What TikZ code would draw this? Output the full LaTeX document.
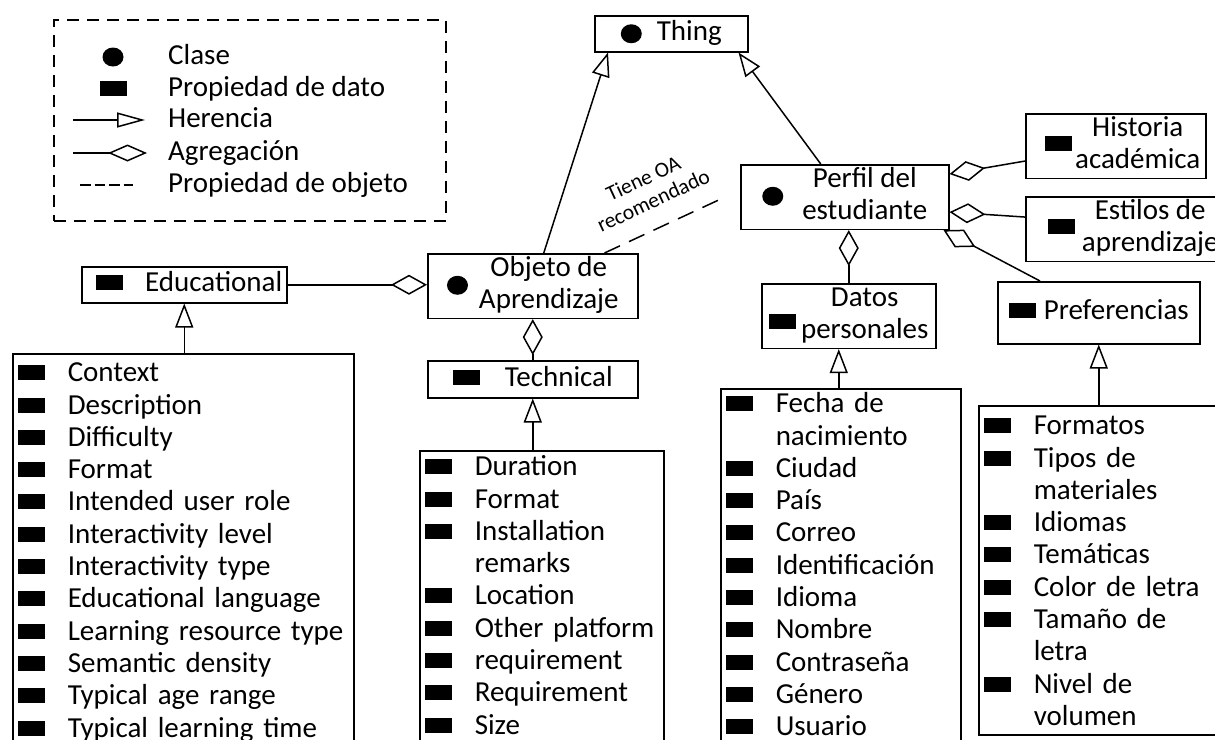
\documentclass[tikz,border=0pt]{standalone}
\usepackage{fontspec}
\setmainfont{Carlito}
\usepackage{tikz}
\usetikzlibrary{arrows.meta}
\usetikzlibrary{calc}

\newcommand{\clase}{\tikz[baseline=-7pt]\fill (0,0) ellipse (10.5pt and 9.5pt);}
\newcommand{\dato}{\rule[1.5pt]{27pt}{15pt}}
\newcommand{\fila}[1]{\makebox[50pt][l]{\dato}#1}
\newcommand{\nofila}[1]{\makebox[50pt][l]{}#1}

\tikzstyle{caja} = [draw,line width=1.5pt,inner sep=0pt,anchor=north west,font=\fontsize{29}{32.3}\selectfont]
\tikzstyle{una} = [caja,text height=20pt,text depth=6pt]
\tikzstyle{lista} = [caja,align=left,inner xsep=5pt,text height=21pt]
\tikzstyle{ley} = [anchor=west,inner sep=0pt,font=\fontsize{29}{32.3}\selectfont,text height=20pt,text depth=6pt]
\tikzstyle{her} = [line width=1.5pt,-{Triangle[open,length=24pt,width=18pt]}]
\tikzstyle{agr} = [line width=1.5pt,-{Diamond[open,length=36pt,width=20pt]}]
\tikzstyle{obj} = [line width=1.5pt,dash pattern=on 17pt off 10pt]

\begin{document}
\begin{tikzpicture}[x=1pt,y=-1pt]
\useasboundingbox (0,0) rectangle (1215,739);

% Leyenda
    \node[caja,dash pattern=on 12pt off 8pt,minimum width=392pt,minimum height=201pt] (leyenda) at (53,19) {};
    \node (iclase) at (113,57) {\clase};
    \node[inner sep=0pt] (idato) at (113,89) {\dato};
    \coordinate (her0) at (73,120);
    \coordinate (her1) at (145,120);
    \coordinate (agr0) at (73,153);
    \coordinate (agr1) at (147,153);
    \coordinate (obj0) at (80,185);
    \coordinate (obj1) at (133,185);
    \draw[line width=1.5pt,-{Triangle[open,length=28pt,width=15pt]}] (her0) -- (her1);
    \draw[line width=1.5pt,-{Diamond[open,length=39pt,width=17pt]}] (agr0) -- (agr1);
    \draw[line width=1.5pt,dash pattern=on 10.5pt off 4pt] (obj0) -- (obj1);
    \node[ley] (tclase) at (168,57) {Clase};
    \node[ley] (tdato) at (168,89) {Propiedad de dato};
    \node[ley] (ther) at (168,120) {Herencia};
    \node[ley] (tagr) at (168,153) {Agregación};
    \node[ley] (tobj) at (168,185) {Propiedad de objeto};

% Clases y propiedades
    \node[una,minimum width=153pt,minimum height=36pt] (thing) at (594,15) {\clase\hspace{15pt}Thing\hspace{10pt}};
    \node[caja,minimum width=210pt,minimum height=63pt] (objeto) at (427,253) {\clase\hspace{11pt}\begin{tabular}{@{}c@{}}Objeto de\\Aprendizaje\end{tabular}};
    \node[caja,minimum width=208pt,minimum height=62pt] (perfil) at (740,164) {\clase\hspace{19pt}\begin{tabular}{@{}c@{}}Perfil del\\estudiante\end{tabular}};
    \node[una,minimum width=205pt,minimum height=36pt] (educational) at (81,266) {\hspace{10pt}\dato\hspace{22pt}Educational};
    \node[una,minimum width=210pt,minimum height=37pt] (technical) at (427,360) {\dato\hspace{25pt}Technical\hspace{18pt}};
    \node[caja,minimum width=174pt,minimum height=64pt] (datos) at (761,283) {\raisebox{-8pt}{\dato}\hspace{5pt}\begin{tabular}{@{}c@{}}Datos\\personales\end{tabular}};
    \node[una,minimum width=202pt,minimum height=62pt] (pref) at (997,281) {\dato\hspace{8pt}Preferencias};
    \node[caja,minimum width=180pt,minimum height=63pt] (historia) at (1025,113) {\hspace{14pt}\dato\hspace{3pt}\begin{tabular}{@{}c@{}}Historia\\académica\end{tabular}};
    \node[caja,minimum width=215pt,minimum height=62pt] (estilos) at (1025,196) {\dato\hspace{7pt}\begin{tabular}{@{}c@{}}Estilos de\\aprendizaje\end{tabular}};

% Listas de propiedades
    \node[lista,text width=331pt,inner ysep=7pt,text depth=372pt] (edulista) at (12,353) {\fila{Context}\\\fila{Description}\\\fila{Difficulty}\\\fila{Format}\\\fila{Intended user role}\\\fila{Interactivity level}\\\fila{Interactivity type}\\\fila{Educational language}\\\fila{Learning resource type}\\\fila{Semantic density}\\\fila{Typical age range}\\\fila{Typical learning time}};
    \node[lista,text width=234pt,inner ysep=4pt,text depth=281pt] (teclista) at (419,450) {\fila{Duration}\\\fila{Format}\\\fila{Installation}\\\nofila{remarks}\\\fila{Location}\\\fila{Other platform}\\\fila{requirement}\\\fila{Requirement}\\\fila{Size}};
    \node[lista,text width=230pt,inner ysep=3pt,text depth=345pt] (datoslista) at (720,388) {\fila{Fecha de}\\\nofila{nacimiento}\\\fila{Ciudad}\\\fila{País}\\\fila{Correo}\\\fila{Identificación}\\\fila{Idioma}\\\fila{Nombre}\\\fila{Contraseña}\\\fila{Género}\\\fila{Usuario}};
    \node[lista,text width=234pt,inner ysep=8pt,text depth=292pt] (preflista) at (978,405) {\fila{Formatos}\\\fila{Tipos de}\\\nofila{materiales}\\\fila{Idiomas}\\\fila{Temáticas}\\\fila{Color de letra}\\\fila{Tamaño de}\\\nofila{letra}\\\fila{Nivel de}\\\nofila{volumen}};

% Herencia
    \draw[her] ($(objeto.north)+(11,0)$) -- ($(thing.south west)+(14,0)$);
    \draw[her] ($(perfil.north)+(-24,0)$) -- ($(thing.south east)+(-10,0)$);
    \draw[her] (edulista.north -| educational.south) -- (educational.south);
    \draw[her] (teclista.north -| technical.south) -- (technical.south);
    \coordinate (dflecha) at ($(datos.south)+(-10,0)$);
    \draw[her] (datoslista.north -| dflecha) -- (dflecha);
    \draw[her] (preflista.north -| pref.south) -- (pref.south);

% Agregacion
    \draw[agr] (educational.east) -- (educational.east -| objeto.west);
    \draw[agr] (technical.north) -- (objeto.south);
    \draw[agr] (datos.north) -- (datos.north |- perfil.south);
    \draw[agr] ($(historia.west)+(0,15)$) -- ($(perfil.east)+(0,-23)$);
    \draw[agr] ($(estilos.west)+(0,-12)$) -- ($(perfil.east)+(0,15)$);
    \draw[agr] ($(pref.north west)+(43,0)$) -- ($(perfil.south east)+(-6,0)$);

% Propiedad de objeto
    \draw[obj] ($(objeto.north east)+(-34,0)$) -- node[sloped,above=19pt,align=center,inner sep=0pt,font=\fontsize{21.5}{24}\selectfont] {Tiene OA\\recomendado} ($(perfil.west)+(-15,0)$);

\end{tikzpicture}
\end{document}
